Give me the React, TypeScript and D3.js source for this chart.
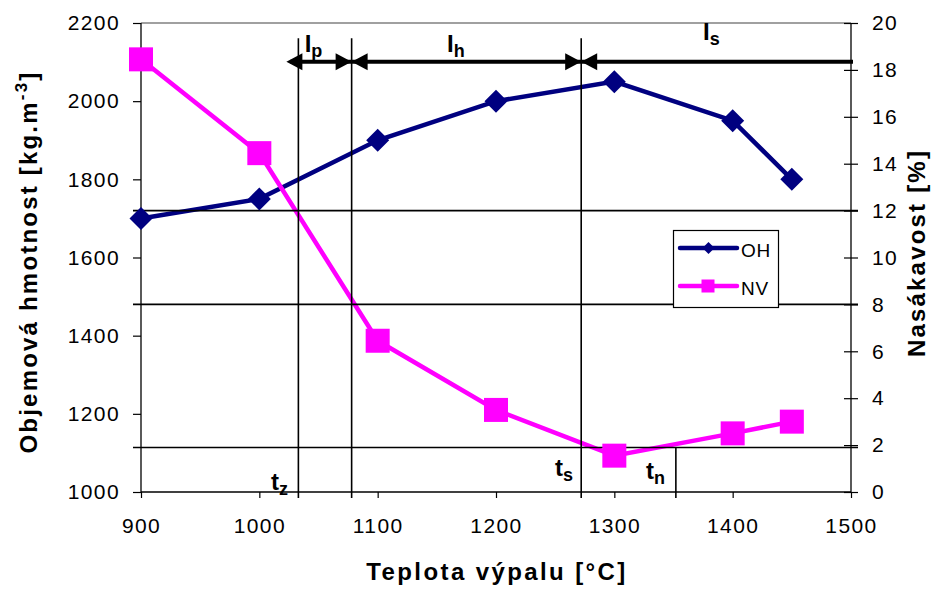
import React, { useEffect, useRef } from "react";
import * as d3 from "d3";

// firing temperature [°C]
const temps = [900, 1000, 1100, 1200, 1300, 1400, 1450];
// OH - bulk density [kg.m-3]
const ohValues = [1700, 1750, 1900, 2000, 2050, 1950, 1800];
// NV - water absorption [%]
const nvValues = [18.45, 14.45, 6.45, 3.5, 1.55, 2.5, 3.0];

const xTicks = [900, 1000, 1100, 1200, 1300, 1400, 1500];
const leftTicks = [1000, 1200, 1400, 1600, 1800, 2000, 2200];
const rightTicks = [0, 2, 4, 6, 8, 10, 12, 14, 16, 18, 20];

// reference levels on the NV axis
const levelLines = [12, 8, 1.9];
// characteristic temperatures
const tz = 1033;
const tp = 1078;
const ts = 1272;
const tn = 1352;
const arrowLevel = 18.35;
const markTop = 19.35;

const FONT = "'Liberation Sans', Arial, sans-serif";

function App() {
    const ref = useRef<SVGSVGElement>(null);

    useEffect(() => {
        const svg = d3.select(ref.current);
        svg.selectAll("*").remove();

        const left = 141, right = 851, top = 23, bottom = 492;

        const x = d3.scaleLinear().domain([900, 1500]).range([left, right]);
        const yL = d3.scaleLinear().domain([1000, 2200]).range([bottom, top]);
        const yR = d3.scaleLinear().domain([0, 20]).range([bottom, top]);

        svg.append("rect").attr("width", 941).attr("height", 590).attr("fill", "#fff");

        // top border of plot area
        svg.append("line")
            .attr("x1", left).attr("x2", right).attr("y1", top).attr("y2", top)
            .attr("stroke", "#808080").attr("stroke-width", 1.5);

        // axes
        const ax = svg.append("g")
            .attr("transform", "translate(0," + bottom + ")")
            .call(d3.axisBottom(x).tickValues(xTicks).tickSize(6).tickPadding(20).tickFormat(d3.format("d")));
        const al = svg.append("g")
            .attr("transform", "translate(" + left + ",0)")
            .call(d3.axisLeft(yL).tickValues(leftTicks).tickSize(8).tickPadding(13).tickFormat(d3.format("d")));
        const ar = svg.append("g")
            .attr("transform", "translate(" + right + ",0)")
            .call(d3.axisRight(yR).tickValues(rightTicks).tickSizeInner(7).tickSizeOuter(0).tickPadding(14));
        ar.selectAll(".tick line").attr("x1", -7);

        [ax, al, ar].forEach(function (g) {
            g.select(".domain").attr("stroke", "#000").attr("stroke-width", 1.3);
            g.selectAll(".tick line").attr("stroke", "#000").attr("stroke-width", 1.2);
            g.selectAll("text")
                .attr("font-family", FONT)
                .attr("font-size", 21)
                .attr("letter-spacing", 1.4)
                .attr("fill", "#000");
        });
        ax.select(".domain").attr("d", "M" + left + ",0H" + right);
        al.select(".domain").attr("d", "M0," + top + "V" + bottom);
        ar.select(".domain").attr("d", "M0," + top + "V" + bottom);

        // series lines
        const ohLine = d3.line<number>().x((d, i) => x(temps[i])).y(d => yL(d));
        const nvLine = d3.line<number>().x((d, i) => x(temps[i])).y(d => yR(d));

        svg.append("path").attr("d", ohLine(ohValues)!)
            .attr("fill", "none").attr("stroke", "#000080").attr("stroke-width", 4.5);
        svg.append("path").attr("d", nvLine(nvValues)!)
            .attr("fill", "none").attr("stroke", "#ff00ff").attr("stroke-width", 4.5);

        // annotation lines
        const ann = svg.append("g").attr("stroke", "#000");
        levelLines.forEach(function (v) {
            ann.append("line")
                .attr("x1", left - 8).attr("x2", right + 7)
                .attr("y1", yR(v)).attr("y2", yR(v))
                .attr("stroke-width", 1.6);
        });
        [tz, tp, ts].forEach(function (t) {
            ann.append("line")
                .attr("x1", x(t)).attr("x2", x(t))
                .attr("y1", yR(markTop)).attr("y2", bottom + 6)
                .attr("stroke-width", 1.6);
        });
        ann.append("line")
            .attr("x1", x(tn)).attr("x2", x(tn))
            .attr("y1", yR(levelLines[2])).attr("y2", bottom + 6)
            .attr("stroke-width", 1.6);

        // arrows
        const ay = yR(arrowLevel);
        const tipL = x(tz) - 12;
        ann.append("line")
            .attr("x1", tipL + 4).attr("x2", right + 2)
            .attr("y1", ay).attr("y2", ay)
            .attr("stroke-width", 4);
        const head = function (tipX: number, dir: number) {
            const len = 16, hw = 8.5;
            svg.append("path")
                .attr("d", "M" + tipX + "," + ay + "L" + (tipX + dir * len) + "," + (ay - hw) +
                    "L" + (tipX + dir * len) + "," + (ay + hw) + "Z")
                .attr("fill", "#000");
        };
        head(tipL, 1);
        head(x(tp), -1);
        head(x(tp), 1);
        head(x(ts), -1);
        head(x(ts), 1);

        // markers
        const diamond = function (cx: number, cy: number, r: number) {
            return "M" + cx + "," + (cy - r) + "L" + (cx + r) + "," + cy + "L" + cx + "," + (cy + r) +
                "L" + (cx - r) + "," + cy + "Z";
        };
        svg.append("g").selectAll("path")
            .data(ohValues)
            .enter()
            .append("path")
            .attr("d", (d, i) => diamond(x(temps[i]), yL(d), 11.5))
            .attr("fill", "#000080");
        svg.append("g").selectAll("rect")
            .data(nvValues)
            .enter()
            .append("rect")
            .attr("x", (d, i) => x(temps[i]) - 12)
            .attr("y", d => yR(d) - 12)
            .attr("width", 24).attr("height", 24)
            .attr("fill", "#ff00ff");

        // labels with subscripts
        const sub = function (px: number, py: number, main: string, s: string) {
            const t = svg.append("text")
                .attr("x", px).attr("y", py)
                .attr("font-family", FONT).attr("font-weight", "bold")
                .attr("font-size", 24).attr("fill", "#000");
            t.append("tspan").text(main);
            t.append("tspan").attr("dy", 5).attr("font-size", 18).text(s);
        };
        sub(x(tp) - 47, ay - 10, "I", "p");
        sub(447, ay - 10, "I", "h");
        sub(703, ay - 22, "I", "s");
        sub(271, 490, "t", "z");
        sub(555, 476, "t", "s");
        sub(646, 479, "t", "n");

        // legend
        const lg = svg.append("g");
        lg.append("rect")
            .attr("x", 673.5).attr("y", 230.5).attr("width", 105).attr("height", 77)
            .attr("fill", "#fff").attr("stroke", "#000").attr("stroke-width", 1.2);
        lg.append("line").attr("x1", 680).attr("x2", 737).attr("y1", 248).attr("y2", 248)
            .attr("stroke", "#000080").attr("stroke-width", 4.5).attr("stroke-linecap", "round");
        lg.append("path").attr("d", diamond(708.5, 248, 6)).attr("fill", "#000080");
        lg.append("line").attr("x1", 680).attr("x2", 737).attr("y1", 286).attr("y2", 286)
            .attr("stroke", "#ff00ff").attr("stroke-width", 4.5).attr("stroke-linecap", "round");
        lg.append("rect").attr("x", 701.5).attr("y", 279.5).attr("width", 13).attr("height", 13)
            .attr("fill", "#ff00ff");
        [["OH", 257], ["NV", 295]].forEach(function (d) {
            lg.append("text").attr("x", 741).attr("y", d[1])
                .attr("font-family", FONT).attr("font-size", 19).attr("letter-spacing", 0.8)
                .text(d[0] as string);
        });

        // axis titles
        svg.append("text")
            .attr("x", 497).attr("y", 580)
            .attr("text-anchor", "middle")
            .attr("font-family", FONT).attr("font-weight", "bold")
            .attr("font-size", 24).attr("letter-spacing", 2.4)
            .text("Teplota výpalu [°C]");

        const lt = svg.append("text")
            .attr("transform", "translate(37,262) rotate(-90)")
            .attr("text-anchor", "middle")
            .attr("font-family", FONT).attr("font-weight", "bold")
            .attr("font-size", 24).attr("letter-spacing", 2.2);
        lt.append("tspan").text("Objemová hmotnost [kg.m");
        lt.append("tspan").attr("dy", -10).attr("font-size", 17).text("-3");
        lt.append("tspan").attr("dy", 10).text("]");

        svg.append("text")
            .attr("transform", "translate(925,253) rotate(-90)")
            .attr("text-anchor", "middle")
            .attr("font-family", FONT).attr("font-weight", "bold")
            .attr("font-size", 24).attr("letter-spacing", 2.2)
            .text("Nasákavost [%]");
    }, []);

    return (
        <svg ref={ref} width={941} height={590}
            style={{ position: "absolute", left: 0, top: 0, display: "block" }} />
    );
}

export default App;
